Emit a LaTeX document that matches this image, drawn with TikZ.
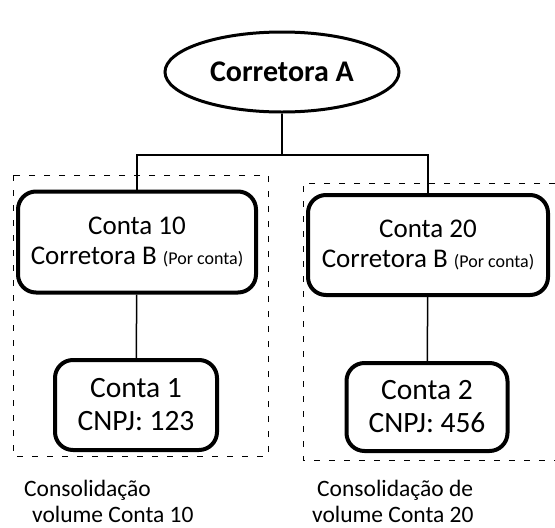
\documentclass[tikz,border=0pt]{standalone}
\usepackage{fontspec}
\setmainfont{Carlito}
\usetikzlibrary{shapes.geometric, positioning}

\begin{document}
\begin{tikzpicture}[x=1pt, y=-1pt,
  conta/.style={draw, line width=4pt, rounded corners=18pt, align=center, inner sep=0pt},
  link/.style={line width=1.5pt},
  grupo/.style={line width=0.9pt, dash pattern=on 6pt off 9pt},
  rotulo/.style={align=left, anchor=north west, inner sep=0pt, font=\fontsize{23.5}{26}\selectfont}]
\useasboundingbox (0,0) rectangle (555,528);

\node[draw, ellipse, line width=3pt, minimum width=234pt, minimum height=80pt, font=\bfseries\fontsize{30}{34}\selectfont] (corretoraA) at (282,72) {Corretora A};

\node[conta, minimum width=238pt, minimum height=101pt, font=\fontsize{27}{30}\selectfont] (conta10) at (137,242) {Conta 10\\Corretora B {\fontsize{18}{20}\selectfont(Por conta)}};
\node[conta, minimum width=240pt, minimum height=100pt, font=\fontsize{27}{30}\selectfont] (conta20) at (428,245) {Conta 20\\Corretora B {\fontsize{18}{20}\selectfont(Por conta)}};

\node[conta, minimum width=162pt, minimum height=90pt, font=\fontsize{29.5}{33}\selectfont] (conta1) at (136,405) {Conta 1\\CNPJ: 123};
\node[conta, minimum width=161pt, minimum height=88pt, font=\fontsize{29.5}{33}\selectfont] (conta2) at (427,407) {Conta 2\\CNPJ: 456};

% ligacoes
\coordinate (bus) at (282,155);
\draw[link] (corretoraA.south) -- (bus);
\draw[link] (conta10.north) |- (bus) -| (conta20.north);
\draw[link] (conta10) -- (conta1);
\draw[link] (conta20) -- (conta2);

% grupos de consolidacao
\draw[grupo] (13,175) rectangle (268,456);
\draw[grupo] (555,183) -- (303,183) -- (303,460) -- (555,460);

\node[rotulo] (rotulo10) at (24,480) {Consolidação\\\hspace{8pt}volume Conta 10};
\node[rotulo] (rotulo20) at (312,480) {\hspace{5pt}Consolidação de\\volume Conta 20};

\end{tikzpicture}
\end{document}
